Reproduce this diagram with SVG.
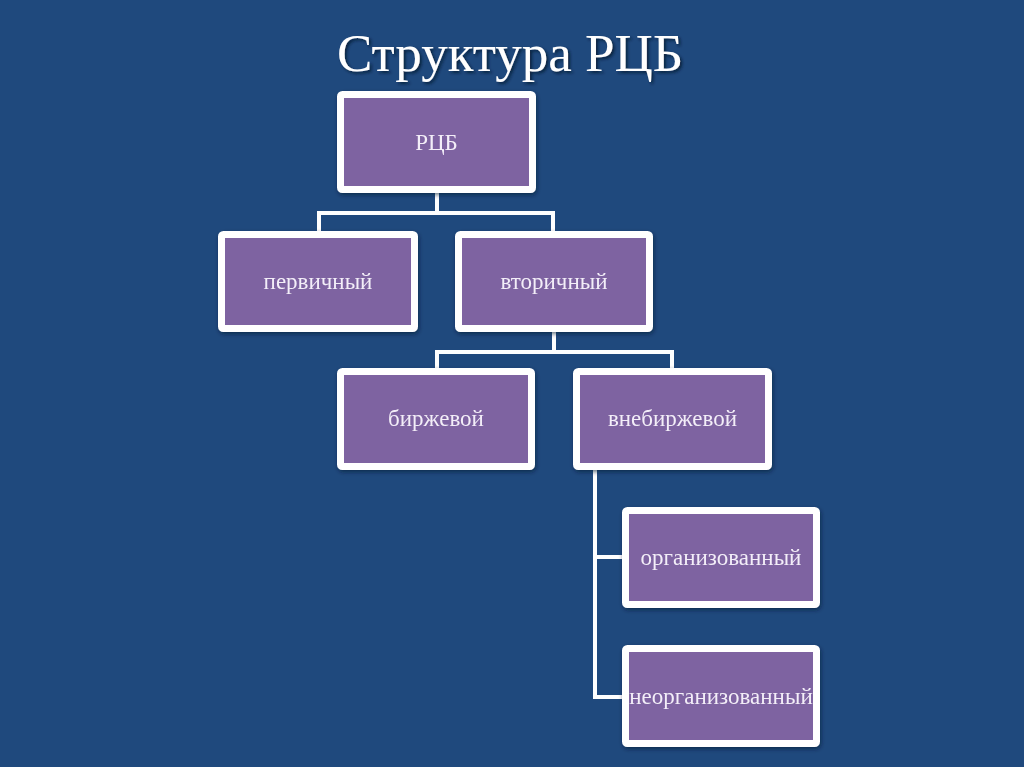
<svg xmlns="http://www.w3.org/2000/svg" width="1024" height="767" viewBox="0 0 1024 767">
<style>
.box{fill:#7e63a1;stroke:#ffffff;stroke-width:7;stroke-linejoin:round}
.lbl{font-family:"Liberation Serif","DejaVu Serif",serif;font-size:23px;fill:#f3eef8;text-anchor:middle;dominant-baseline:central}
.con{fill:none;stroke:#ffffff;stroke-width:4}
.title{font-family:"Liberation Serif","DejaVu Serif",serif;font-size:53px;fill:#ffffff;text-anchor:middle}
</style>
<defs>
<filter id="sh" x="-10%" y="-30%" width="120%" height="160%">
<feGaussianBlur in="SourceAlpha" stdDeviation="1.5"/>
<feOffset dx="1.5" dy="1.5" result="b"/>
<feFlood flood-color="#0a1a30" flood-opacity="0.8"/>
<feComposite in2="b" operator="in"/>
<feMerge><feMergeNode/><feMergeNode in="SourceGraphic"/></feMerge>
</filter>
<filter id="bs" x="-10%" y="-10%" width="120%" height="130%">
<feGaussianBlur in="SourceAlpha" stdDeviation="2"/>
<feOffset dx="1" dy="2" result="b"/>
<feFlood flood-color="#0a1a30" flood-opacity="0.6"/>
<feComposite in2="b" operator="in"/>
<feMerge><feMergeNode/><feMergeNode in="SourceGraphic"/></feMerge>
</filter>
</defs>
<rect width="1024" height="767" fill="#1f497d"/>
<text class="title" x="510" y="71" filter="url(#sh)">Структура РЦБ</text>
<g id="connectors">
<path class="con" d="M437 193 V213 M319 232 V213 H553 V232"/>
<path class="con" d="M554 332 V352 M437 369 V352 H672 V369"/>
<path class="con" d="M595 470 V697 H622 M595 557 H622"/>
</g>
<g id="n-rcb" filter="url(#bs)">
<rect class="box" x="340.5" y="94.5" width="192" height="95" rx="2"/>
<text class="lbl" x="436.5" y="142">РЦБ</text>
</g>
<g id="n-perv" filter="url(#bs)">
<rect class="box" x="221.5" y="234.5" width="193" height="94" rx="2"/>
<text class="lbl" x="318" y="281">первичный</text>
</g>
<g id="n-vtor" filter="url(#bs)">
<rect class="box" x="458.5" y="234.5" width="191" height="94" rx="2"/>
<text class="lbl" x="554" y="281">вторичный</text>
</g>
<g id="n-birzh" filter="url(#bs)">
<rect class="box" x="340.5" y="371.5" width="191" height="95" rx="2"/>
<text class="lbl" x="436" y="418">биржевой</text>
</g>
<g id="n-vnebirzh" filter="url(#bs)">
<rect class="box" x="576.5" y="371.5" width="192" height="95" rx="2"/>
<text class="lbl" x="672.5" y="418">внебиржевой</text>
</g>
<g id="n-org" filter="url(#bs)">
<rect class="box" x="625.5" y="510.5" width="191" height="94" rx="2"/>
<text class="lbl" x="721" y="557">организованный</text>
</g>
<g id="n-neorg" filter="url(#bs)">
<rect class="box" x="625.5" y="648.5" width="191" height="95" rx="2"/>
<text class="lbl" x="721" y="696">неорганизованный</text>
</g>
</svg>
